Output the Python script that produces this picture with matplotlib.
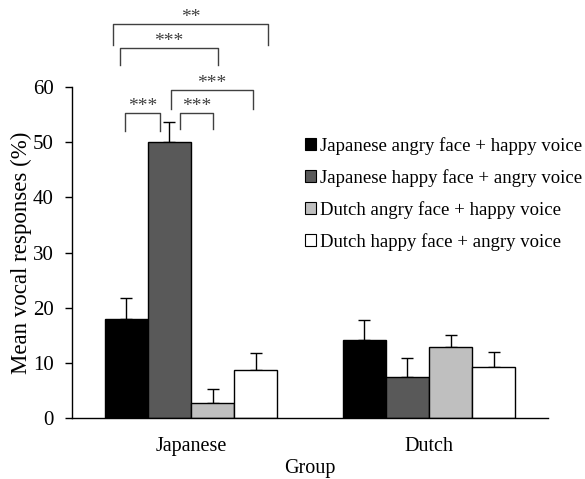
import matplotlib
matplotlib.use('Agg')
import matplotlib.pyplot as plt
from matplotlib.patches import Patch
import numpy as np

plt.rcParams['font.family'] = ['Liberation Serif', 'DejaVu Serif']

groups = ['Japanese', 'Dutch']
series = ['Japanese angry face + happy voice',
          'Japanese happy face + angry voice',
          'Dutch angry face + happy voice',
          'Dutch happy face + angry voice']
jp_angry_happy = [17.9, 14.1]
jp_happy_angry = [50.0, 7.5]
du_angry_happy = [2.7, 12.8]
du_happy_angry = [8.7, 9.2]
err_jp_angry_happy = [3.9, 3.7]
err_jp_happy_angry = [3.6, 3.4]
err_du_angry_happy = [2.5, 2.2]
err_du_happy_angry = [3.1, 2.8]
colors = ['#000000', '#595959', '#bfbfbf', '#ffffff']

values = [jp_angry_happy, jp_happy_angry, du_angry_happy, du_happy_angry]
errors = [err_jp_angry_happy, err_jp_happy_angry, err_du_angry_happy, err_du_happy_angry]

# significance brackets within Japanese group: (bar i, dx i, bar j, dx j, top, leg end, label)
brackets = [
    (0, -0.055, 3, 0.050, 71.4, 67.6, '**'),
    (0, -0.027, 2, 0.021, 67.1, 64.0, '***'),
    (1, 0.006, 3, -0.010, 59.5, 56.0, '***'),
    (0, -0.006, 1, -0.040, 55.3, 52.0, '***'),
    (1, 0.044, 2, 0.004, 55.3, 52.4, '***'),
]

fig = plt.figure(figsize=(5.85, 4.79), dpi=100)
ax = fig.add_axes([72/585, 1-418/479, (548-72)/585, (418-87)/479])

x = np.arange(len(groups))
w = 0.181
offsets = (np.arange(4) - 1.5) * w
for k in range(4):
    ax.bar(x + offsets[k], values[k], width=w, color=colors[k],
           edgecolor='black', linewidth=1.0, zorder=2, label=series[k])
    ax.errorbar(x + offsets[k], values[k], yerr=[np.zeros(2), errors[k]],
                fmt='none', ecolor='black', elinewidth=1.0, capsize=4,
                capthick=1.0, zorder=1)

ax.set_xlim(-0.5, 1.5)
ax.set_ylim(0, 60)
ax.set_yticks(np.arange(0, 61, 10))
ax.set_xticks(x)
ax.set_xticklabels(groups)
ax.tick_params(axis='x', length=0, labelsize=14.5, pad=14)
ax.tick_params(axis='y', length=5, width=1, labelsize=15, pad=8)
for s in ['top', 'right']:
    ax.spines[s].set_visible(False)
for s in ['left', 'bottom']:
    ax.spines[s].set_linewidth(1.0)
ax.set_ylabel('Mean vocal responses (%)', fontsize=16.5, labelpad=1)
ax.set_xlabel('Group', fontsize=14.5, labelpad=2)

bc = '#404040'
for (i, dxi, j, dxj, top, end, lab) in brackets:
    x1 = x[0] + offsets[i] + dxi
    x2 = x[0] + offsets[j] + dxj
    ax.plot([x1, x1, x2, x2], [end, top, top, end], color=bc, lw=1.0,
            clip_on=False, zorder=3)
    ax.text((x1 + x2) / 2, top + 0.3, lab, ha='center', va='baseline',
            fontsize=14, color=bc, clip_on=False)

handles = [Patch(facecolor=colors[k], edgecolor='black', linewidth=0.8) for k in range(4)]
leg = fig.legend(handles, series, loc='upper left',
                 bbox_to_anchor=(305/585, 1-137/479), frameon=False,
                 fontsize=13.5, handlelength=0.6, handleheight=0.6,
                 handletextpad=0.2, labelspacing=0.75, borderpad=0,
                 borderaxespad=0)

fig.savefig('out.png', dpi=100)
